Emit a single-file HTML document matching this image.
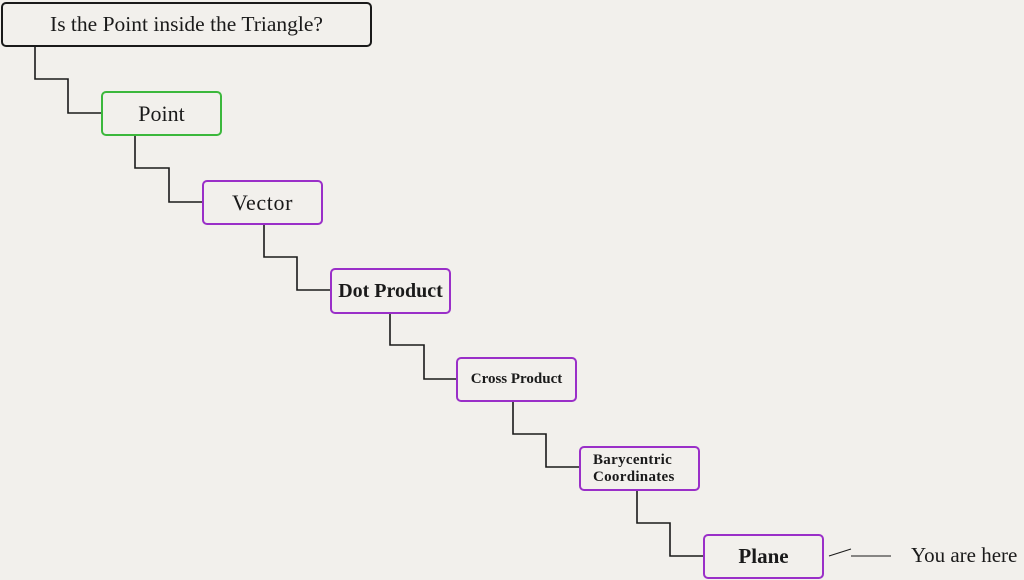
<!DOCTYPE html>
<html><head><meta charset="utf-8"><style>
html,body{margin:0;padding:0;background:#f2f0ec;}
body{width:1024px;height:580px;overflow:hidden;position:relative;font-family:"Liberation Serif","DejaVu Serif",serif;color:#1a1a1a;}
.b{position:absolute;box-sizing:border-box;border:2px solid #9a2fc8;border-radius:5px;background:#f2f0ec;display:flex;align-items:center;justify-content:center;text-align:center;white-space:nowrap;}
svg{position:absolute;left:0;top:0;}
</style></head><body>
<svg width="1024" height="580">
<g fill="none" stroke="#1a1a1a" stroke-width="1.6">
<polyline points="35,46 35,79 68,79 68,113 101,113"/>
<polyline points="135,135 135,168 169,168 169,202 202,202"/>
<polyline points="264,224 264,257 297,257 297,290 331,290"/>
<polyline points="390,313 390,345 424,345 424,379 457,379"/>
<polyline points="513,401 513,434 546,434 546,467 580,467"/>
<polyline points="637,490 637,523 670,523 670,556 704,556"/>
</g>
<g stroke="#1a1a1a" stroke-width="1">
<line x1="829" y1="556" x2="851" y2="549"/>
<line x1="851" y1="556" x2="891" y2="556"/>
</g>
</svg>
<div class="b" style="left:1px;top:2px;width:371px;height:45px;border-color:#1a1a1a;font-size:21.5px;">Is the Point inside the Triangle?</div>
<div class="b" style="left:101px;top:91px;width:121px;height:45px;border-color:#3cb83c;font-size:22px;">Point</div>
<div class="b" style="left:202px;top:180px;width:121px;height:45px;font-size:22px;letter-spacing:0.6px;">Vector</div>
<div class="b" style="left:330px;top:268px;width:121px;height:46px;font-size:20px;font-weight:bold;">Dot Product</div>
<div class="b" style="left:456px;top:357px;width:121px;height:45px;font-size:15px;font-weight:bold;">Cross Product</div>
<div class="b" style="left:579px;top:446px;width:121px;height:45px;font-size:15px;font-weight:bold;line-height:17px;justify-content:flex-start;padding-left:12px;text-align:left;letter-spacing:0.3px;">Barycentric<br>Coordinates</div>
<div class="b" style="left:703px;top:534px;width:121px;height:45px;font-size:21px;font-weight:bold;">Plane</div>
<div style="position:absolute;left:911px;top:543px;font-size:21px;white-space:nowrap;">You are here</div>
</body></html>
